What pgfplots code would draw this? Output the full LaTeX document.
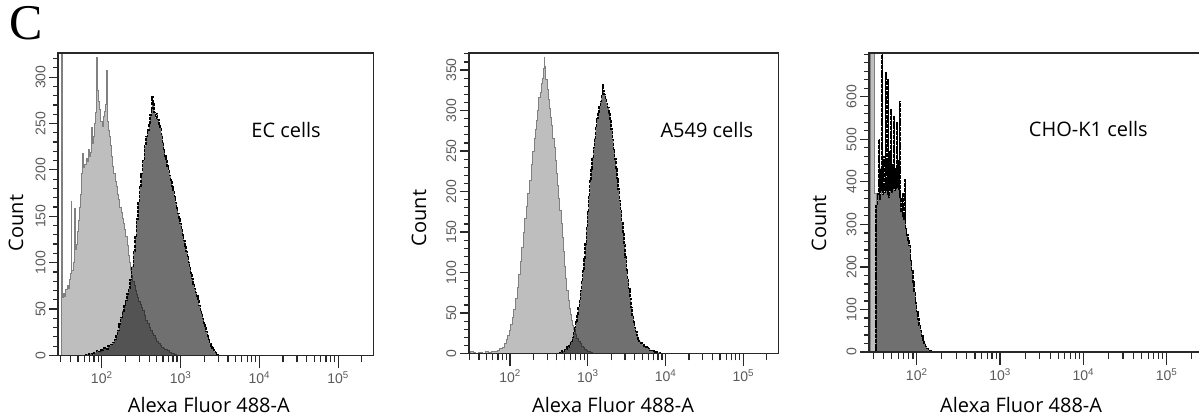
\documentclass[border=0pt]{standalone}
\usepackage{fontspec}
\setmainfont{Open Sans}
\newfontfamily\tickfont{Liberation Sans}
\newfontfamily\panelfont{Liberation Serif}
\usepackage{pgfplots}
\pgfplotsset{compat=1.18}
\usepackage{pgfplotstable}

\definecolor{lightfill}{RGB}{190,190,190}
\definecolor{lightline}{RGB}{128,128,128}
\definecolor{framegray}{RGB}{40,40,40}
\definecolor{ticktext}{RGB}{90,90,90}

\newcommand{\labelfont}{\fontsize{20bp}{24bp}\selectfont}

% x in log10 units of fluorescence, y in counts
\pgfplotstableread{
x y
1.490 0
1.490 400
1.498 62
1.515 67
1.530 64
1.545 71
1.560 75
1.575 72
1.590 82
1.605 88
1.615 166
1.622 92
1.635 100
1.650 108
1.655 158
1.665 114
1.680 120
1.695 134
1.710 146
1.720 160
1.730 174
1.745 196
1.760 218
1.770 203
1.785 206
1.800 212
1.815 209
1.830 222
1.845 214
1.860 219
1.870 246
1.880 228
1.895 236
1.910 250
1.925 262
1.935 321
1.945 286
1.960 274
1.975 265
1.990 252
2.005 247
2.020 258
2.035 263
2.050 270
2.058 307
2.068 252
2.080 243
2.095 236
2.110 226
2.125 214
2.140 204
2.155 196
2.170 188
2.185 182
2.200 174
2.215 168
2.230 160
2.245 154
2.260 148
2.275 142
2.290 136
2.305 128
2.320 118
2.335 108
2.350 100
2.365 92
2.380 86
2.395 80
2.410 75
2.425 70
2.440 66
2.455 62
2.470 58
2.485 55
2.500 52
2.520 48
2.540 43
2.560 38
2.580 34
2.600 30
2.620 27
2.640 24
2.660 21
2.680 18
2.700 15
2.720 13
2.740 11
2.760 9
2.780 8
2.800 6
2.830 5
2.860 3
2.890 2
2.920 1
2.950 0
}\lightA

\pgfplotstableread{
x y
1.78 0
1.80 1
1.84 2
1.88 1
1.90 3
1.93 5
1.96 4
1.99 6
2.02 8
2.05 7
2.08 10
2.11 12
2.14 14
2.16 17
2.18 21
2.20 27
2.22 34
2.24 41
2.26 48
2.28 54
2.30 59
2.32 66
2.34 72
2.36 82
2.38 96
2.40 112
2.42 128
2.44 147
2.46 165
2.48 182
2.50 196
2.52 210
2.54 226
2.56 236
2.58 243
2.60 250
2.615 259
2.63 266
2.64 279
2.65 271
2.665 262
2.68 256
2.695 261
2.71 254
2.725 249
2.74 246
2.755 238
2.77 230
2.785 222
2.80 215
2.815 210
2.83 204
2.845 199
2.86 194
2.875 189
2.89 182
2.905 177
2.92 171
2.935 165
2.95 159
2.965 153
2.98 147
2.995 142
3.01 136
3.025 130
3.04 124
3.055 118
3.07 112
3.085 106
3.10 100
3.115 95
3.13 89
3.145 83
3.16 77
3.175 72
3.19 68
3.205 64
3.22 59
3.235 54
3.25 49
3.265 45
3.28 40
3.295 35
3.31 30
3.325 26
3.34 21
3.355 17
3.37 13
3.385 10
3.40 8
3.415 6
3.43 4
3.445 3
3.46 1
3.475 0
}\darkA

\pgfplotstableread{
x y
1.47 0
1.49 2
1.51 3
1.53 1
1.56 0
1.60 1
1.64 0
1.68 2
1.72 1
1.76 2
1.80 3
1.84 4
1.87 6
1.90 8
1.93 12
1.95 17
1.97 22
1.99 28
2.01 36
2.03 45
2.05 55
2.07 68
2.09 81
2.11 97
2.13 114
2.15 131
2.17 150
2.19 167
2.21 182
2.23 198
2.25 214
2.27 234
2.29 250
2.31 265
2.325 276
2.34 288
2.355 300
2.37 316
2.385 322
2.40 333
2.415 340
2.43 352
2.437 366
2.445 354
2.46 338
2.475 326
2.49 314
2.505 302
2.52 292
2.535 281
2.55 266
2.565 255
2.58 238
2.595 222
2.61 207
2.625 192
2.64 176
2.655 160
2.67 143
2.685 126
2.70 108
2.715 93
2.73 78
2.745 66
2.76 56
2.775 48
2.79 41
2.805 35
2.82 30
2.84 24
2.86 19
2.88 15
2.90 12
2.92 9
2.94 7
2.96 5
2.98 4
3.00 3
3.03 1
3.06 0
}\lightB

\pgfplotstableread{
x y
2.62 0
2.64 1
2.67 3
2.70 5
2.73 8
2.76 11
2.78 15
2.80 20
2.815 26
2.83 32
2.845 39
2.86 47
2.875 56
2.89 65
2.905 78
2.92 90
2.935 102
2.95 117
2.965 135
2.98 155
2.995 175
3.01 195
3.025 213
3.04 228
3.055 242
3.07 254
3.085 266
3.10 280
3.115 290
3.13 298
3.145 305
3.16 311
3.175 319
3.185 332
3.195 324
3.21 320
3.225 315
3.24 309
3.255 304
3.27 296
3.285 288
3.30 277
3.315 264
3.33 251
3.345 240
3.36 228
3.375 216
3.39 203
3.405 189
3.42 176
3.435 162
3.45 148
3.465 134
3.48 119
3.495 103
3.51 91
3.525 80
3.54 68
3.555 57
3.57 47
3.585 39
3.60 32
3.615 27
3.63 22
3.645 18
3.66 15
3.68 13
3.70 11
3.72 9
3.74 8
3.76 7
3.78 6
3.80 4
3.83 3
3.86 2
3.89 1
3.93 0
}\darkB

\pgfplotstableread{
x y
1.440 0
1.440 900
1.490 373
1.512 0
}\lightC

\pgfplotstableread{
x y
1.505 0
1.510 345
1.528 372
1.545 500
1.551 360
1.565 430
1.571 380
1.582 699
1.588 370
1.602 460
1.608 375
1.622 656
1.628 380
1.640 450
1.646 372
1.655 640
1.661 365
1.675 470
1.681 380
1.692 570
1.698 375
1.712 440
1.718 385
1.727 553
1.733 380
1.745 430
1.751 385
1.762 540
1.768 390
1.780 450
1.786 380
1.792 589
1.798 360
1.812 330
1.829 373
1.835 320
1.848 310
1.862 405
1.868 290
1.880 275
1.895 262
1.910 250
1.925 215
1.940 190
1.955 165
1.970 140
1.985 115
2.000 95
2.015 78
2.030 62
2.045 50
2.060 38
2.075 28
2.090 20
2.105 13
2.120 8
2.140 4
2.160 2
2.180 0
}\darkC

\pgfplotsset{
  facs/.style={
    scale only axis,
    ymin=0, xmax=5.45,
    axis line style={line width=1.5bp, framegray},
    tick align=outside,
    xtick pos=bottom, ytick pos=left,
    tick style={line width=1.2bp, framegray},
  },
  % y ticks, labels and data live in the first axis of a panel
  facsy/.style={facs,
    xtick=\empty,
    major tick length=9bp, minor tick length=5bp,
    yticklabel style={font=\tickfont\fontsize{14bp}{14bp}\selectfont, text=ticktext,
                      rotate=90, anchor=south},
    /pgf/number format/assume math mode=true,
    label style={font=\labelfont},
    xlabel={Alexa Fluor 488-A}, ylabel={Count},
  },
  % x ticks are drawn by a second, empty axis on top (longer ticks)
  facsx/.style={facs,
    ytick=\empty,
    major tick length=13bp, minor tick length=7bp,
    xtick={2,3,4,5},
    xticklabels={10\textsuperscript{2},10\textsuperscript{3},10\textsuperscript{4},10\textsuperscript{5}},
    minor xtick={1.47712,1.60206,1.69897,1.77815,1.84510,1.90309,1.95424,
                 2.30103,2.47712,2.60206,2.69897,2.77815,2.84510,2.90309,2.95424,
                 3.30103,3.47712,3.60206,3.69897,3.77815,3.84510,3.90309,3.95424,
                 4.30103,4.47712,4.60206,4.69897,4.77815,4.84510,4.90309,4.95424,
                 5.30103},
    xticklabel style={font=\tickfont\fontsize{14bp}{15bp}\selectfont, text=ticktext},
  },
  lighthist/.style={const plot, fill=lightfill, draw=lightline, line width=0.9bp},
  darkhist/.style={const plot, fill=black, fill opacity=0.56, draw=black,
                   line width=1.4bp, dash pattern=on 3bp off 1.2bp},
  panelA/.style={at={(58bp,63.6bp)}, width=315.6bp, height=302.4bp, xmin=1.445, ymax=326},
  panelB/.style={at={(468.8bp,65.5bp)}, width=309.6bp, height=300.5bp, xmin=1.47, ymax=371},
  panelC/.style={at={(869bp,67bp)}, width=335.1bp, height=299bp, xmin=1.427, ymax=703},
}

\begin{document}
\begin{tikzpicture}

\node[font=\panelfont\fontsize{50bp}{50bp}\selectfont, anchor=base] at (26bp,379bp) {C};

% EC cells
\begin{axis}[facsy, panelA,
    ytick={0,50,...,300}, minor ytick={10,20,...,320},
    xlabel style={at={(axis description cs:0.478,-0.190)}, anchor=base},
    ylabel style={at={(axis description cs:-0.133,0.438)}, anchor=center},
]
\addplot[lighthist] table {\lightA} \closedcycle;
\addplot[darkhist] table {\darkA} \closedcycle;
\node[font=\labelfont, anchor=base] at (axis cs:4.34,235) {EC cells};
\end{axis}
\begin{axis}[facsx, panelA]
\end{axis}

% A549 cells
\begin{axis}[facsy, panelB,
    ytick={0,50,...,350}, minor ytick={10,20,...,370},
    xlabel style={at={(axis description cs:0.466,-0.198)}, anchor=base},
    ylabel style={at={(axis description cs:-0.161,0.451)}, anchor=center},
]
\addplot[lighthist] table {\lightB} \closedcycle;
\addplot[darkhist] table {\darkB} \closedcycle;
\node[font=\labelfont, anchor=base] at (axis cs:4.53,267) {A549 cells};
\end{axis}
\begin{axis}[facsx, panelB]
\end{axis}

% CHO-K1 cells (right edge runs off the figure)
\begin{axis}[facsy, panelC,
    ytick={0,100,...,600}, minor ytick={20,40,...,700},
    xlabel style={at={(axis description cs:0.454,-0.204)}, anchor=base},
    ylabel style={at={(axis description cs:-0.149,0.431)}, anchor=center},
]
\addplot[lighthist] table {\lightC} \closedcycle;
\addplot[darkhist, dash pattern=on 4bp off 0.8bp, line width=1.5bp] table {\darkC} \closedcycle;
\node[font=\labelfont, anchor=base] at (axis cs:4.06,506) {CHO-K1 cells};
\end{axis}
\begin{axis}[facsx, panelC]
\end{axis}

\pgfresetboundingbox
\useasboundingbox (0,0) rectangle (1199bp,419bp);
\end{tikzpicture}
\end{document}
